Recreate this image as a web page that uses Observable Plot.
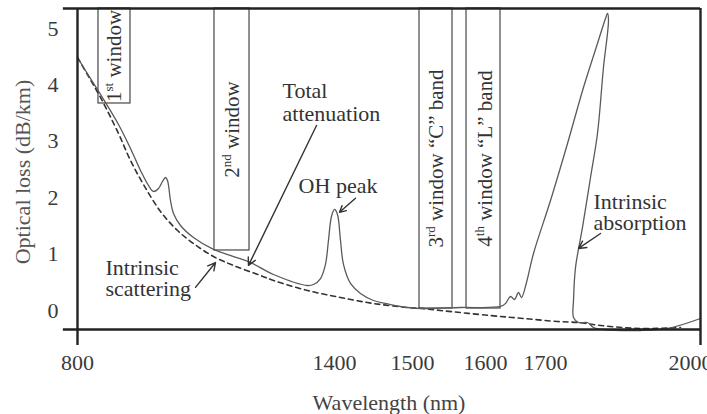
<!DOCTYPE html>
<html>
<head>
<meta charset="utf-8">
<script src="https://cdn.jsdelivr.net/npm/d3@7"></script>
<script src="https://cdn.jsdelivr.net/npm/@observablehq/plot@0.6"></script>
<style>
  html, body { margin: 0; padding: 0; background: #fff; }
  #chart svg { display: block; }
</style>
</head>
<body>
<div id="chart"></div>
<script>
// Wavelength tick labels (nm) and loss tick labels (dB/km)
const wavelengthTicks = [800, 1400, 1500, 1600, 1700, 2000];
const lossTicks = [0, 1, 2, 3, 4, 5];

// Rayleigh (intrinsic) scattering floor
const scatterWavelength = [800, 825.7, 853.7, 895.7, 923.7, 954.1, 993.8, 1033.5, 1070.8, 1117.5, 1164.2, 1227.2, 1257.6, 1337, 1407.7, 1450, 1493.6, 1513.7, 1538.4, 1608.3, 1663.3, 1723.2, 1763.9, 1806.5, 1883.9, 1961.3];
const scatterLoss = [4.486, 4.149, 3.777, 3.138, 2.66, 2.234, 1.755, 1.418, 1.188, 0.957, 0.798, 0.621, 0.532, 0.355, 0.23, 0.124, 0.053, 0.035, 0, -0.089, -0.142, -0.195, -0.213, -0.266, -0.319, -0.301];

// Total attenuation of the fibre
const totalWavelength = [800, 825.7, 853.7, 895.7, 923.7, 947.1, 965.8, 977.4, 989.1, 998.4, 1005.4, 1010.1, 1017.1, 1024.1, 1040.5, 1070.8, 1117.5, 1164.2, 1203.9, 1257.6, 1337, 1351, 1367.4, 1378.9, 1385.9, 1392.9, 1400, 1403.8, 1407.7, 1411.5, 1420.5, 1433.3, 1450, 1471.8, 1493.6, 1513.7, 1565.8, 1625, 1633.3, 1641.7, 1648.3, 1655, 1660, 1668.3, 1680, 1709.7, 1742.6, 1773.5, 1800.6, 1816.1, 1820, 1821.9, 1812.2, 1800.6, 1787.1, 1771.6, 1758.1, 1754.2, 1754.2, 1763.9, 1781.3, 1792.9, 1812.2, 1883.9, 1936.1, 2000];
const totalLoss = [4.486, 4.167, 3.83, 3.298, 2.872, 2.482, 2.216, 2.11, 2.163, 2.287, 2.358, 2.305, 1.95, 1.72, 1.507, 1.294, 1.082, 0.957, 0.851, 0.638, 0.443, 0.461, 0.567, 0.816, 1.241, 1.667, 1.791, 1.702, 1.241, 0.816, 0.479, 0.301, 0.177, 0.106, 0.053, 0.035, 0.053, 0.071, 0.124, 0.248, 0.195, 0.319, 0.23, 0.496, 1.011, 1.95, 2.961, 3.954, 4.734, 5.177, 5.266, 5.142, 4.309, 3.138, 2.358, 1.472, 0.762, 0.177, -0.124, -0.213, -0.213, -0.301, -0.337, -0.355, -0.319, -0.142];

// Transmission windows
const windowNames = ["1st window", "2nd window", "3rd window \u201CC\u201D band", "4th window \u201CL\u201D band"];
const windowStart = [849, 1119.8, 1509.6, 1574];
const windowEnd = [923.7, 1201.6, 1554.8, 1625];
const windowFloor = [3.67, 1.064, 0.035, 0.035];

// Annotation labels and their pointers
const noteText = ["Total\nattenuation", "OH peak", "Intrinsic\nscattering", "Intrinsic\nabsorption"];
const noteWavelength = [1278.6, 1404.5, 865.4, 1792.9];
const noteLoss = [3.7, 2.2, 0.567, 1.73];
const arrowFromWavelength = [1358, 1426.9, 1075.5, 1806.5];
const arrowFromLoss = [3.28, 1.99, 0.41, 1.365];
const arrowToWavelength = [1199.2, 1406.4, 1122.2, 1763.9];
const arrowToLoss = [0.8, 1.74, 0.85, 1.1];

const lossMin = -0.337, lossMax = 5.354;

const scatter = scatterWavelength.map((w, i) => ({w, loss: scatterLoss[i]}));
const total = totalWavelength.map((w, i) => ({w, loss: totalLoss[i]}));
const windows = windowNames.map((name, i) => ({
  name, x1: windowStart[i], x2: windowEnd[i], floor: windowFloor[i],
  mid: (windowStart[i] + windowEnd[i]) / 2, ymid: (windowFloor[i] + lossMax) / 2
}));
const notes = noteText.map((text, i) => ({text, w: noteWavelength[i], loss: noteLoss[i]}));
const arrows = arrowFromWavelength.map((w, i) => ({
  x1: w, y1: arrowFromLoss[i], x2: arrowToWavelength[i], y2: arrowToLoss[i]
}));

const ink = "#333";
const serif = "'Liberation Serif', 'Times New Roman', serif";
const plain = d => String(d);

const chart = Plot.plot({
  width: 707,
  height: 414,
  marginLeft: 77,
  marginRight: 7,
  marginTop: 8,
  marginBottom: 85,
  style: {fontFamily: serif, fontSize: "22px", color: ink, background: "#fff", overflow: "visible"},
  x: {type: "linear", domain: wavelengthTicks, range: [77, 334, 412, 485, 545, 700]},
  y: {domain: [lossMin, lossMax]},
  marks: [
    // transmission windows
    Plot.rect(windows, {x1: "x1", x2: "x2", y1: "floor", y2: lossMax, fill: "none", stroke: "#555", strokeWidth: 1.3}),
    Plot.text(windows, {x: "mid", y: "ymid", text: "name", rotate: -90, fontSize: 21, fill: ink, textAnchor: "middle"}),
    // attenuation curves
    Plot.line(scatter, {x: "w", y: "loss", stroke: "#333", strokeWidth: 1.6, strokeDasharray: "5,4", curve: "catmull-rom"}),
    Plot.line(total, {x: "w", y: "loss", stroke: "#5a5a5a", strokeWidth: 1.3, curve: "catmull-rom"}),
    // annotations
    Plot.arrow(arrows, {x1: "x1", y1: "y1", x2: "x2", y2: "y2", stroke: ink, strokeWidth: 1.4, headLength: 9, headAngle: 55}),
    Plot.text(notes.slice(0, 1), {x: "w", y: "loss", text: "text", textAnchor: "start", lineAnchor: "middle", lineHeight: 1.05, fontSize: 22, fill: ink}),
    Plot.text(notes.slice(2), {x: "w", y: "loss", text: "text", textAnchor: "start", lineAnchor: "middle", lineHeight: 0.95, fontSize: 22, fill: ink}),
    Plot.text(notes.slice(1, 2), {x: "w", y: "loss", text: "text", textAnchor: "middle", fontSize: 22, fill: ink}),
    // frame
    Plot.ruleY([lossMax, lossMin], {x1: 767, x2: 2000, stroke: "#222", strokeWidth: 2.4}),
    Plot.ruleX([800, 2000], {y1: -0.62, y2: lossMax, stroke: "#222", strokeWidth: 2.4}),
    // axes
    Plot.axisX(wavelengthTicks.slice(0, -1), {tickSize: 0, tickPadding: 25, tickFormat: plain, fontSize: 22, fill: "#3a3a3a"}),
    Plot.axisX(wavelengthTicks.slice(-1), {tickSize: 0, tickPadding: 25, tickFormat: plain, fontSize: 22, fill: "#3a3a3a", dx: -10}),
    Plot.axisY(lossTicks, {tickSize: 0, tickPadding: 19, tickFormat: plain, fontSize: 22, fill: "#3a3a3a"}),
    Plot.text(["Wavelength (nm)"], {frameAnchor: "bottom", dy: 73, fontSize: 22, fill: "#444", textAnchor: "middle", lineAnchor: "middle"}),
    Plot.text(["Optical loss (dB/km)"], {frameAnchor: "left", dx: -55, dy: 3, rotate: -90, fontSize: 22, fill: "#555", textAnchor: "middle", lineAnchor: "middle"})
  ]
});

// Typeset ordinal suffixes (1st, 2nd, …) as superscripts
d3.select(chart).selectAll("text").each(function () {
  const m = /^(\d)(st|nd|rd|th)( .*)$/.exec(this.textContent);
  if (!m) return;
  const t = d3.select(this);
  t.text(null);
  t.append("tspan").text(m[1]);
  t.append("tspan").attr("font-size", 13).attr("dy", -8).text(m[2]);
  t.append("tspan").attr("dy", 8).text(m[3]);
});

document.getElementById("chart").append(chart);
</script>
</body>
</html>
